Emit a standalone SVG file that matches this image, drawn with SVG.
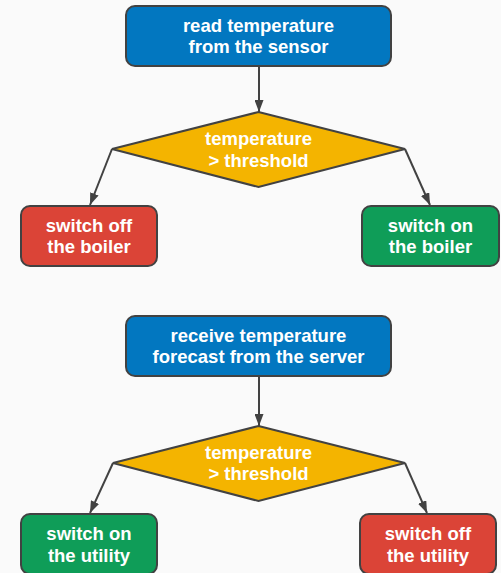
<svg xmlns="http://www.w3.org/2000/svg" width="501" height="573" viewBox="0 0 501 573">
<style>
.box{stroke:#424242;stroke-width:2}
.blue{fill:#0277C0}
.yellow{fill:#F4B400}
.red{fill:#DB4437}
.green{fill:#0F9D58}
.t{font-family:"Liberation Sans",Arial,sans-serif;font-weight:bold;font-size:18.5px;fill:#ffffff;text-anchor:middle}
.c{stroke:#424242;stroke-width:2;fill:none;marker-end:url(#ah)}
</style>
<defs>
<marker id="ah" viewBox="0 0 12 9" refX="12" refY="4.5" markerWidth="6" markerHeight="4.5" orient="auto" markerUnits="strokeWidth">
<path d="M0,0 L12,4.5 L0,9 z" fill="#424242"/>
</marker>
</defs>
<rect width="501" height="573" fill="#fafafa"/>
<g id="connectors">
<line class="c" x1="259" y1="66" x2="259" y2="112"/>
<line class="c" x1="112" y1="149" x2="90" y2="205"/>
<line class="c" x1="405" y1="149" x2="430" y2="205"/>
<line class="c" x1="259" y1="376" x2="259" y2="426"/>
<line class="c" x1="113" y1="463" x2="90" y2="513"/>
<line class="c" x1="405" y1="463" x2="427" y2="513"/>
</g>
<g id="n1">
<rect class="box blue" x="126" y="6" width="265" height="60" rx="9"/>
<text class="t" x="258.5" y="31.5">read temperature</text>
<text class="t" x="258.5" y="53">from the sensor</text>
</g>
<g id="d1">
<polygon class="box yellow" points="258.5,112 405,149 258.5,187 112,149"/>
<text class="t" x="258.5" y="145">temperature</text>
<text class="t" x="258.5" y="166.5">&gt; threshold</text>
</g>
<g id="n2">
<rect class="box red" x="21" y="206" width="136" height="60" rx="9"/>
<text class="t" x="89" y="231.5">switch off</text>
<text class="t" x="89" y="253">the boiler</text>
</g>
<g id="n3">
<rect class="box green" x="362" y="206" width="137" height="60" rx="9"/>
<text class="t" x="430.5" y="231.5">switch on</text>
<text class="t" x="430.5" y="253">the boiler</text>
</g>
<g id="n4">
<rect class="box blue" x="126" y="316" width="265" height="60" rx="9"/>
<text class="t" x="258.5" y="341.5">receive temperature</text>
<text class="t" x="258.5" y="363">forecast from the server</text>
</g>
<g id="d2">
<polygon class="box yellow" points="258.5,426 405,463 258.5,501 113,463"/>
<text class="t" x="258.5" y="458.5">temperature</text>
<text class="t" x="258.5" y="480">&gt; threshold</text>
</g>
<g id="n5">
<rect class="box green" x="21" y="514" width="136" height="60" rx="9"/>
<text class="t" x="89" y="540">switch on</text>
<text class="t" x="89" y="561.5">the utility</text>
</g>
<g id="n6">
<rect class="box red" x="360" y="514" width="136" height="60" rx="9"/>
<text class="t" x="428" y="540">switch off</text>
<text class="t" x="428" y="561.5">the utility</text>
</g>
</svg>
